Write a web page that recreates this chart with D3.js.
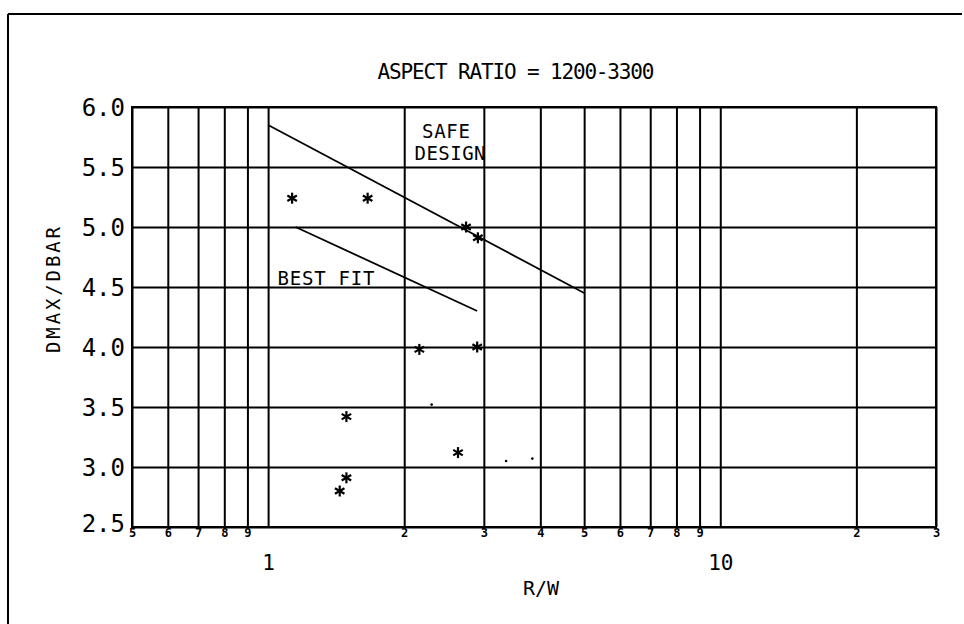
<!DOCTYPE html>
<html>
<head>
<meta charset="utf-8">
<script src="https://cdn.jsdelivr.net/npm/d3@7"></script>
<style>
  html, body { margin: 0; padding: 0; background: #fff; }
  svg { display: block; }
  text { fill: #000; font-family: "DejaVu Sans Mono", "Liberation Mono", monospace; }
</style>
</head>
<body>
<svg id="chart" width="964" height="624"></svg>
<script>
// R/W values (log axis) and DMAX/DBAR values for the plotted cases
const starR = [1.13, 1.66, 2.74, 2.91, 2.16, 2.90, 1.49, 2.63, 1.49, 1.44];
const starD = [5.24, 5.24, 5.00, 4.91, 3.98, 4.00, 3.42, 3.12, 2.91, 2.80];

// minor plotted points (single dots)
const dotR = [2.30, 3.36, 3.84];
const dotD = [3.52, 3.05, 3.07];

// design envelope and regression line end points
const safeR = [1.0, 5.0];
const safeD = [5.85, 4.45];
const bestR = [1.15, 2.9];
const bestD = [5.00, 4.30];

// axis ticks
const xGridVals = [0.5, 0.6, 0.7, 0.8, 0.9, 1, 2, 3, 4, 5, 6, 7, 8, 9, 10, 20, 30];
const xMinorLabels = ["5", "6", "7", "8", "9", "", "2", "3", "4", "5", "6", "7", "8", "9", "", "2", "3"];
const xMajorVals = [1, 10];
const xMajorLabels = ["1", "10"];
const yTicks = [2.5, 3.0, 3.5, 4.0, 4.5, 5.0, 5.5, 6.0];

const title = "ASPECT RATIO = 1200-3300";
const xTitle = "R/W";
const yTitle = "DMAX/DBAR";
const safeLabel = ["SAFE", "DESIGN"];
const bestLabel = "BEST FIT";

const svg = d3.select("#chart");
const L = 132, R = 936, T = 107, B = 527;

const x = d3.scaleLog().domain([0.5, 30]).range([L, R]);
const y = d3.scaleLinear().domain([2.5, 6.0]).range([B, T]);

// sheet frame (top and left edges)
svg.append("line").attr("x1", 8).attr("x2", 962).attr("y1", 14).attr("y2", 14)
  .attr("stroke", "#000").attr("stroke-width", 2);
svg.append("line").attr("x1", 8).attr("x2", 8).attr("y1", 14).attr("y2", 624)
  .attr("stroke", "#000").attr("stroke-width", 2);

// vertical grid + small digit labels
const gx = svg.append("g").attr("transform", `translate(0,${B})`)
  .call(d3.axisBottom(x).tickValues(xGridVals).tickSize(-(B - T)).tickPadding(8)
    .tickFormat((d, i) => xMinorLabels[i]));
gx.select(".domain").remove();
gx.selectAll(".tick line").attr("stroke", "#000").attr("stroke-width", 2);
gx.selectAll(".tick text").attr("font-size", 12).attr("font-weight", "bold")
  .attr("dy", "0.2em");

// decade labels
const gxm = svg.append("g").attr("transform", `translate(0,${B})`)
  .call(d3.axisBottom(x).tickValues(xMajorVals).tickSize(0).tickPadding(28)
    .tickFormat((d, i) => xMajorLabels[i]));
gxm.select(".domain").remove();
gxm.selectAll(".tick text").attr("font-size", 21).attr("dy", "0.7em");

// horizontal grid + value labels
const gy = svg.append("g").attr("transform", `translate(${L},0)`)
  .call(d3.axisLeft(y).tickValues(yTicks).tickSize(-(R - L)).tickPadding(7)
    .tickFormat(d3.format(".1f")));
gy.select(".domain").remove();
gy.selectAll(".tick line").attr("stroke", "#000").attr("stroke-width", 2);
gy.selectAll(".tick text").attr("font-size", 24).attr("dy", "0.36em")
  .style("font-variant-numeric", "slashed-zero");
gy.selectAll(".tick").filter(d => d === 2.5).select("text").attr("dy", "0.2em");

// plot border
svg.append("rect").attr("x", L).attr("y", T).attr("width", R - L).attr("height", B - T)
  .attr("fill", "none").attr("stroke", "#000").attr("stroke-width", 2);

// reference lines
const line = d3.line().x(d => x(d[0])).y(d => y(d[1]));
svg.append("path").datum(d3.zip(safeR, safeD)).attr("d", line)
  .attr("fill", "none").attr("stroke", "#000").attr("stroke-width", 1.8);
svg.append("path").datum(d3.zip(bestR, bestD)).attr("d", line)
  .attr("fill", "none").attr("stroke", "#000").attr("stroke-width", 1.8);

// asterisk markers
const star = svg.append("g").selectAll("g").data(d3.zip(starR, starD)).join("g")
  .attr("transform", d => `translate(${x(d[0])},${y(d[1])})`);
[90, 30, -30].forEach(a => {
  const r = 5.5, rad = a * Math.PI / 180;
  star.append("line")
    .attr("x1", -r * Math.cos(rad)).attr("y1", -r * Math.sin(rad))
    .attr("x2", r * Math.cos(rad)).attr("y2", r * Math.sin(rad))
    .attr("stroke", "#000").attr("stroke-width", 2.2);
});

// single dots
svg.append("g").selectAll("circle").data(d3.zip(dotR, dotD)).join("circle")
  .attr("cx", d => x(d[0])).attr("cy", d => y(d[1])).attr("r", 1.3).attr("fill", "#000");

// annotations
svg.append("text").attr("x", 446).attr("y", 138).attr("text-anchor", "middle")
  .attr("font-size", 19).attr("textLength", 48).attr("lengthAdjust", "spacing")
  .text(safeLabel[0]);
svg.append("text").attr("x", 450).attr("y", 160).attr("text-anchor", "middle")
  .attr("font-size", 19).attr("textLength", 71).attr("lengthAdjust", "spacing")
  .text(safeLabel[1]);
svg.append("text").attr("x", 326).attr("y", 285).attr("text-anchor", "middle")
  .attr("font-size", 19).attr("textLength", 97).attr("lengthAdjust", "spacing")
  .text(bestLabel);

// titles
svg.append("text").attr("x", 516).attr("y", 79).attr("text-anchor", "middle")
  .attr("font-size", 21).attr("textLength", 277).attr("lengthAdjust", "spacing")
  .style("font-variant-numeric", "slashed-zero").text(title);
svg.append("text").attr("x", 541).attr("y", 595).attr("text-anchor", "middle")
  .attr("font-size", 20).text(xTitle);
svg.append("text").attr("transform", "translate(60,290) rotate(-90)")
  .attr("text-anchor", "middle").attr("font-size", 19)
  .attr("textLength", 126).attr("lengthAdjust", "spacing").text(yTitle);
</script>
</body>
</html>
